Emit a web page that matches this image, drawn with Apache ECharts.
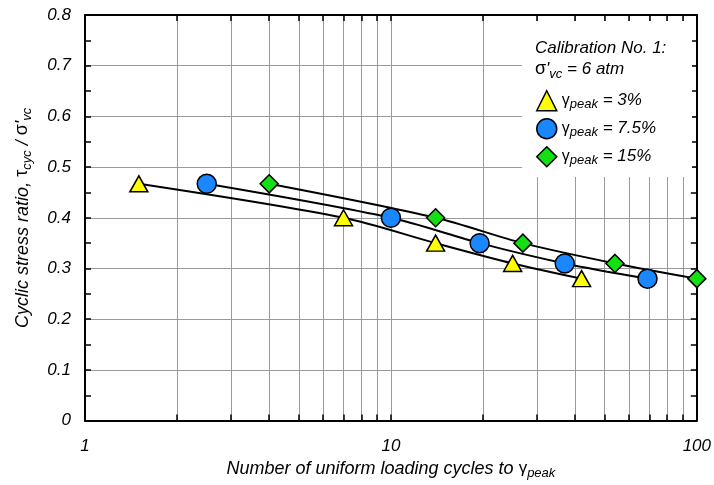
<!DOCTYPE html>
<html>
<head>
<meta charset="utf-8">
<script src="https://cdn.jsdelivr.net/npm/echarts@6/dist/echarts.min.js"></script>
<style>
  html, body { margin: 0; padding: 0; background: #fff; }
  #chart { width: 714px; height: 485px; }
</style>
</head>
<body>
<div id="chart"></div>
<script>
// Cycles to reach each peak shear strain, and the cyclic stress ratio applied
const cycles3 = [1.5, 7, 14, 25, 42];
const ratio3 = [0.467, 0.40, 0.35, 0.31, 0.28];
const cycles75 = [2.5, 10, 19.5, 37, 69];
const ratio75 = [0.467, 0.40, 0.35, 0.31, 0.28];
const cycles15 = [4, 14, 27, 54, 100];
const ratio15 = [0.467, 0.40, 0.35, 0.31, 0.28];

const seriesNames = ['3%', '7.5%', '15%'];
const xTickValues = [1, 2, 3, 4, 5, 6, 7, 8, 9, 10, 20, 30, 40, 50, 60, 70, 80, 90, 100];
const xLabelValues = [1, 10, 100];

const FONT = '"Liberation Sans", Arial, sans-serif';
const GRID_GRAY = '#9a9a9a';

function pairs(xs, ys) { return xs.map((x, i) => [x, ys[i]]); }

const baseText = { fontFamily: FONT, fontStyle: 'italic', color: '#000' };

const xAxisCommon = {
  type: 'log', logBase: 10, min: 1, max: 100,
  axisLine: { show: true, onZero: false, lineStyle: { color: '#000', width: 2 } },
  axisTick: { show: true, inside: true, length: 6, customValues: xTickValues, lineStyle: { color: '#000', width: 1.5 } },
};
const yAxisCommon = {
  type: 'value', min: 0, max: 0.8, interval: 0.1,
  axisLine: { show: true, onZero: false, lineStyle: { color: '#000', width: 2 } },
  axisTick: { show: true, inside: true, length: 6, lineStyle: { color: '#000', width: 1.5 } },
  minorTick: { show: true, splitNumber: 2, length: 6, lineStyle: { color: '#000', width: 1.5 } },
};

const markerStyles = [
  { symbol: 'triangle', symbolSize: [18, 16], color: '#ffff00' },
  { symbol: 'circle', symbolSize: 19, color: '#1a87ff' },
  { symbol: 'diamond', symbolSize: [18, 18], color: '#12e012' },
];
const dataSets = [pairs(cycles3, ratio3), pairs(cycles75, ratio75), pairs(cycles15, ratio15)];

const chart = echarts.init(document.getElementById('chart'), null, { renderer: 'canvas' });

chart.setOption({
  animation: false,
  backgroundColor: '#fff',
  grid: { left: 85, right: 14, top: 15, bottom: 61, containLabel: false },
  xAxis: [
    Object.assign({}, xAxisCommon, {
      position: 'bottom',
      axisLabel: Object.assign({}, baseText, { fontSize: 17, margin: 17, customValues: xLabelValues }),
      splitLine: { show: true, lineStyle: { color: GRID_GRAY, width: 1 } },
      name: '{t|Number of uniform loading cycles to }{g|γ}{s|peak}',
      nameLocation: 'middle', nameGap: 34,
      nameTextStyle: {
        rich: {
          t: Object.assign({}, baseText, { fontSize: 18 }),
          g: { fontFamily: FONT, fontSize: 17, color: '#000' },
          s: Object.assign({}, baseText, { fontSize: 13, padding: [10, 0, 0, 0] }),
        }
      }
    }),
    Object.assign({}, xAxisCommon, {
      position: 'top',
      axisLabel: { show: false },
      splitLine: { show: false },
    }),
  ],
  yAxis: [
    Object.assign({}, yAxisCommon, {
      position: 'left',
      axisLabel: Object.assign({}, baseText, { fontSize: 17, margin: 14 }),
      splitLine: { show: true, lineStyle: { color: GRID_GRAY, width: 1 } },
      name: '{t|Cyclic stress ratio, }{g|τ}{s|cyc}{t| / }{g|σ}{t|\'}{s|vc}',
      nameLocation: 'middle', nameGap: 51, nameRotate: 90,
      nameTextStyle: {
        rich: {
          t: Object.assign({}, baseText, { fontSize: 18 }),
          g: { fontFamily: FONT, fontSize: 18, color: '#000' },
          s: Object.assign({}, baseText, { fontSize: 13, padding: [10, 0, 0, 0] }),
        }
      }
    }),
    Object.assign({}, yAxisCommon, {
      position: 'right',
      axisLabel: { show: false },
      splitLine: { show: false },
    }),
  ],
  legend: {
    orient: 'vertical',
    left: 531, top: 85,
    itemGap: 6.5,
    itemWidth: 20, itemHeight: 20,
    data: seriesNames.map((n, i) => ({
      name: n,
      icon: markerStyles[i].symbol,
      itemStyle: { color: markerStyles[i].color, borderColor: '#000', borderWidth: 1.5 },
    })),
    formatter: n => '{g|γ}{s|peak}{t| = ' + n + '}',
    textStyle: {
      rich: {
        g: { fontFamily: FONT, fontSize: 16, color: '#000' },
        s: Object.assign({}, baseText, { fontSize: 13, padding: [8, 0, 0, 0] }),
        t: Object.assign({}, baseText, { fontSize: 17 }),
      }
    },
    selectedMode: false,
  },
  graphic: [
    {
      type: 'rect', z: 1, silent: true,
      shape: { x: 522, y: 21, width: 170, height: 156 },
      style: { fill: '#fff' },
    },
    {
      type: 'text', z: 5, silent: true, left: 535, top: 40,
      style: {
        text: 'Calibration No. 1:',
        font: 'italic 17px ' + FONT, fill: '#000',
      }
    },
    {
      type: 'text', z: 5, silent: true, left: 535, top: 60,
      style: {
        text: '{g|σ}{t|\'}{s|vc}{t| = 6 atm}',
        rich: {
          g: { fontFamily: FONT, fontSize: 18, fill: '#000' },
          t: { fontFamily: FONT, fontStyle: 'italic', fontSize: 17, fill: '#000' },
          s: { fontFamily: FONT, fontStyle: 'italic', fontSize: 13, fill: '#000', padding: [10, 0, 0, 0] },
        }
      }
    },
  ],
  series: dataSets.map((d, i) => ({
    name: seriesNames[i],
    type: 'line',
    data: d,
    smooth: 0.3,
    symbol: markerStyles[i].symbol,
    symbolSize: markerStyles[i].symbolSize,
    lineStyle: { color: '#000', width: 2 },
    itemStyle: { color: markerStyles[i].color, borderColor: '#000', borderWidth: 1.5 },
    z: 3,
  })),
});
</script>
</body>
</html>
